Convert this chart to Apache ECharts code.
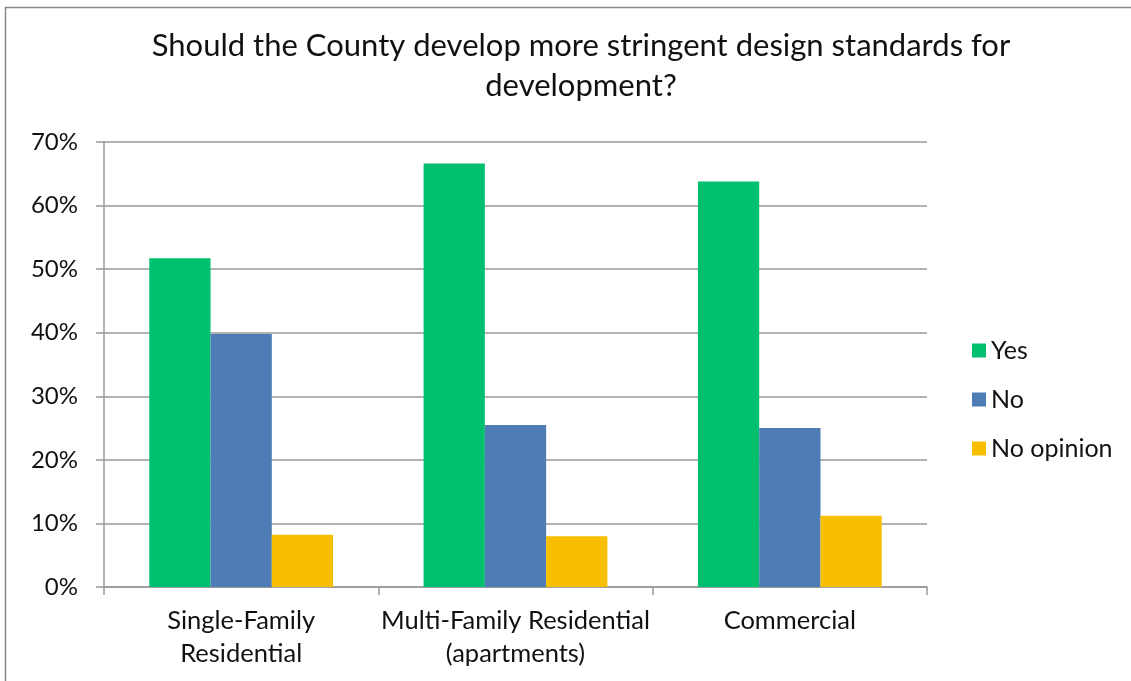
<!DOCTYPE html>
<html>
<head>
<meta charset="utf-8">
<script src="https://cdn.jsdelivr.net/npm/echarts@6/dist/echarts.min.js"></script>
<style>
  html, body { margin: 0; padding: 0; background: #fff; }
  #chart { width: 1131px; height: 681px; }
</style>
</head>
<body>
<div id="chart"></div>
<script>
// categories and values (percent)
var categories = ['Single-Family\nResidential', 'Multi-Family Residential\n(apartments)', 'Commercial'];
var yesValues = [51.7, 66.6, 63.8];
var noValues = [39.8, 25.5, 25.0];
var noOpinionValues = [8.2, 8.0, 11.2];
var seriesNames = ['Yes', 'No', 'No opinion'];
var colors = ['#00BF6F', '#4E7CB4', '#F8BE00'];

var font = 'Lato, sans-serif';
var chartView = echarts.init(document.getElementById('chart'));

chartView.setOption({
    backgroundColor: '#fff',
    color: colors,
    animation: false,
    title: {
        text: 'Should the County develop more stringent design standards for\ndevelopment?',
        left: 576,
        textAlign: 'center',
        top: 21,
        textStyle: {
            fontFamily: font,
            fontWeight: 'normal',
            fontSize: 31,
            color: '#111',
            lineHeight: 40
        }
    },
    legend: {
        orient: 'vertical',
        left: 967,
        top: 333,
        itemWidth: 14,
        itemHeight: 14,
        itemGap: 24,
        icon: 'rect',
        textStyle: { fontFamily: font, fontSize: 25, color: '#111' },
        data: seriesNames
    },
    grid: {
        left: 104,
        right: 204,
        top: 142,
        bottom: 94,
        containLabel: false
    },
    xAxis: {
        type: 'category',
        data: categories,
        axisLine: { lineStyle: { color: '#999', width: 1.5 } },
        axisTick: { show: true, length: 8, lineStyle: { color: '#999', width: 1.5 } },
        axisLabel: {
            interval: 0,
            fontFamily: font,
            fontSize: 25.5,
            color: '#111',
            margin: 17,
            lineHeight: 33
        }
    },
    yAxis: {
        type: 'value',
        min: 0,
        max: 70,
        interval: 10,
        axisLine: { show: true, lineStyle: { color: '#999', width: 1.5 } },
        axisTick: { show: true, length: 8, lineStyle: { color: '#999', width: 1.5 } },
        splitLine: { lineStyle: { color: '#999', width: 1.5 } },
        axisLabel: {
            formatter: '{value}%',
            fontFamily: font,
            fontSize: 24,
            color: '#111',
            margin: 26
        }
    },
    series: [
        { name: seriesNames[0], type: 'bar', data: yesValues, barGap: '0%', barCategoryGap: '33%' },
        { name: seriesNames[1], type: 'bar', data: noValues, barGap: '0%', barCategoryGap: '33%' },
        { name: seriesNames[2], type: 'bar', data: noOpinionValues, barGap: '0%', barCategoryGap: '33%' }
    ],
    graphic: [{
        type: 'rect',
        shape: { x: 5.5, y: 7.5, width: 1300, height: 1000 },
        style: { fill: 'none', stroke: '#888', lineWidth: 1.5 },
        silent: true
    }]
});
window.addEventListener('resize', function () {
    chartView.resize();
});
</script>
</body>
</html>
